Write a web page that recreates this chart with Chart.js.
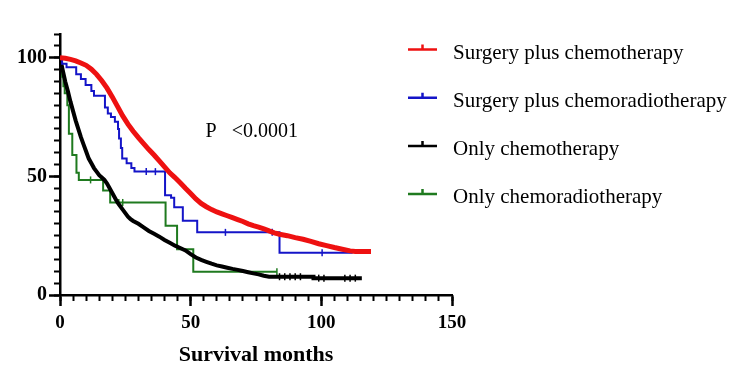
<!DOCTYPE html>
<html><head><meta charset="utf-8">
<script src="https://cdn.jsdelivr.net/npm/chart.js@4/dist/chart.umd.min.js"></script>
<style>html,body{margin:0;padding:0;background:#fff}</style>
</head><body>
<canvas id="c" width="744" height="384"></canvas>
<script>
// ---- data ----
const seriesNames = ["Surgery plus chemotherapy","Surgery plus chemoradiotherapy","Only chemotherapy","Only chemoradiotherapy"];
const xTickValues = [0,50,100,150];
const yTickValues = [0,50,100];
const xTitle = "Survival months";
const pText = "P   <0.0001";

const redT = [0,2,4,6,8,10,12,14,16,18,20,22,24,26,28,30,32,34,36,38,40,42,44,46,48,50,52,54,56,58,60,62,64,66,68,70,72,74,76,78,80,82,84,87,90,93,96,99,102,105,108,111,113,119];
const redS = [100,99.8,99.3,98.7,97.8,96.8,95.2,93,90.3,87.2,83.5,79.5,75.5,72,69,66.3,63.8,61.3,59,56.5,54,51.5,49.5,47.3,45,42.8,40.5,38.6,37.2,36,35,34.2,33.4,32.6,31.8,31,30,29.2,28.6,27.9,27,26.2,25.6,25,24.2,23.5,22.6,21.6,20.8,20,19.3,18.6,18.3,18.3];

const blueT = [0,0.8,2.5,6.2,8,9.8,12,13,17.2,18.3,19.5,21,22.2,22.6,23.3,23.8,25.5,27.3,28.5,40.2,42.5,43.7,47,52.5,84,112];
const blueS = [100,97.5,96,93,91,88.5,86,84,79,76.5,75,73,70,66,62,57.5,55.5,53.5,52,42,41,37,31.3,26.4,17.8,17.8];

const blackT = [0,1,2,3,4,5,6,7,8,9,10,11,12,13,14,15,16,17,18,19,20,21,22,23,24,25,26,27,28,30,32,34,36,38,40,42,44,46,48,50,52,54,56,58,60,62,64,66,68,70,72,74,76,78,80,97,97,115.5];
const blackS = [100,95,90,86,81.5,77.5,73.5,70,66.5,63.5,60.5,57.5,55.5,53.5,52,50.5,49.5,48.5,47,45,43,41,39,37.5,36,34.5,33,32,31.2,30,28.5,27,25.8,24.6,23.2,22,20.8,19.8,18.8,17.2,15.8,14.8,14,13.2,12.5,12,11.5,11,10.6,10.1,9.6,9.1,8.7,8.1,7.7,7.7,7.1,7.1];

const greenT = [0,0.4,0.8,1.3,1.8,2.8,3.4,4.7,6.3,7.2,16.5,19.2,40.4,44.8,51,83];
const greenS = [100,96,92,88,85,80,68,59,51.5,48.5,44,39,29.2,19.3,9.8,9.8];

const blueCensorT = [33,36.5,63.3,81.2,100.3];
const blueCensorS = [52,52,26.4,26.4,17.8];
const greenCensorT = [11.7,22.5,24,83];
const greenCensorS = [48.5,39,39,9.8];
const blackCensorT = [84,86,88,90,92,99,101,109,111,113];
const blackCensorS = [7.7,7.7,7.7,7.7,7.7,7.1,7.1,7.1,7.1,7.1];

// ---- styles ----
const colors = ["#ee1111","#1414c8","#000000","#1f7a1f"];
const widths = [5,2,4,2];
const serif = '"Liberation Serif","Times New Roman",serif';

const pts = (T,S) => T.map((t,i)=>({x:t,y:S[i]}));

const curves = [
  {T:redT,S:redS,stepped:false},
  {T:blueT,S:blueS,stepped:'before'},
  {T:blackT,S:blackS,stepped:false},
  {T:greenT,S:greenS,stepped:'before'}
].map((c,i)=>({
  label: seriesNames[i], data: pts(c.T,c.S), borderColor: colors[i], borderWidth: widths[i],
  stepped: c.stepped, pointRadius: 0, fill: false, tension: 0, order: i
}));
const censor = (T,S,col)=>({label:'', data: pts(T,S), showLine:false, pointStyle:'line', rotation:90,
  pointRadius:3.5, pointBorderColor:col, pointBorderWidth:1.5, order: 10});
const datasets = curves.concat([
  censor(blueCensorT,blueCensorS,colors[1]),
  censor(greenCensorT,greenCensorS,colors[3]),
  censor(blackCensorT,blackCensorS,colors[2])
]);

const kmLegend = {
  id:'kmLegend',
  afterDraw(chart){
    const ctx = chart.ctx;
    ctx.save();
    seriesNames.forEach((name,i)=>{
      const y = 49.5 + i*48.2;
      ctx.strokeStyle = colors[i]; ctx.lineWidth = 2.5;
      ctx.beginPath(); ctx.moveTo(408,y); ctx.lineTo(437,y);
      ctx.moveTo(422.5,y); ctx.lineTo(422.5,y-5); ctx.stroke();
      ctx.fillStyle = '#000'; ctx.font = '21px '+serif; ctx.textBaseline='alphabetic';
      ctx.fillText(name, 453, y+9);
    });
    const xs = chart.scales.x, ys = chart.scales.y;
    ctx.font = '20px '+serif; ctx.fillStyle='#000'; ctx.textBaseline='alphabetic';
    ctx.fillText(pText, xs.getPixelForValue(55.7), ys.getPixelForValue(66.5));
    ctx.restore();
  }
};

const tickFontX = {family: serif, size: 19, weight: 'bold'};
const tickFontY = {family: serif, size: 20, weight: 'bold'};

new Chart(document.getElementById('c'), {
  type: 'line',
  data: {datasets},
  plugins: [kmLegend],
  options: {
    responsive: false, animation: false, devicePixelRatio: 1,
    layout: {padding: {left: 0, right: 292, top: 34, bottom: 15}},
    plugins: {legend: {display: false}, tooltip: {enabled: false}},
    scales: {
      xMinor: {
        type: 'linear', position: 'bottom', min: 0, max: 150, weight: 0,
        ticks: {stepSize: 5, display: false, autoSkip: false, maxTicksLimit: 100},
        grid: {drawOnChartArea: false, tickLength: 6, tickWidth: 2, tickColor: '#000'},
        border: {display: false},
        afterFit: s => { s.height = 0; }
      },
      x: {
        type: 'linear', position: 'bottom', min: 0, max: 150, weight: 1,
        afterBuildTicks: s => { s.ticks = xTickValues.map(v=>({value:v})); },
        ticks: {font: tickFontX, color: '#000', padding: 6, autoSkip: false, maxRotation: 0},
        grid: {drawOnChartArea: false, tickLength: 11, tickWidth: 2.5, tickColor: '#000'},
        border: {display: true, color: '#000', width: 2.5},
        title: {display: true, text: xTitle, color: '#000', font: {family: serif, size: 22, weight: 'bold'}, padding: {top: 0, bottom: 0}},
        afterFit: s => { s.height = 74; }
      },
      yMinor: {
        type: 'linear', position: 'left', min: 0, max: 110, weight: 0,
        ticks: {stepSize: 5, display: false, autoSkip: false, maxTicksLimit: 100},
        grid: {drawOnChartArea: false, tickLength: 6, tickWidth: 2, tickColor: '#000'},
        border: {display: false},
        afterFit: s => { s.width = 0; }
      },
      y: {
        type: 'linear', position: 'left', min: 0, max: 110, weight: 1,
        afterBuildTicks: s => { s.ticks = yTickValues.map(v=>({value:v})); },
        ticks: {font: tickFontY, color: '#000', padding: 2, autoSkip: false},
        grid: {drawOnChartArea: false, tickLength: 11, tickWidth: 2.5, tickColor: '#000'},
        border: {display: true, color: '#000', width: 2.5},
        afterFit: s => { s.width = 60; }
      }
    }
  }
});
</script>
</body></html>
